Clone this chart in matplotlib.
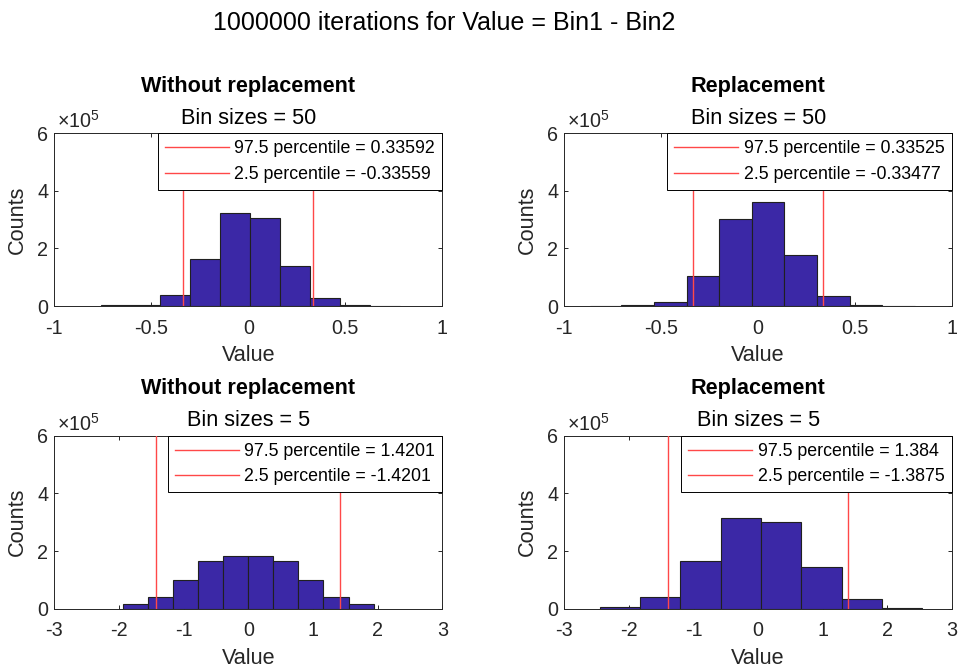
import matplotlib

matplotlib.use("Agg")
import matplotlib.pyplot as plt
import numpy as np
from matplotlib.ticker import FuncFormatter

plt.rcParams["font.family"] = ["Liberation Sans", "DejaVu Sans"]
plt.rcParams["axes.unicode_minus"] = False
plt.rcParams["mathtext.default"] = "regular"

# Histogram bin edges and counts, one set per panel.
edges_wo_50 = [-0.76, -0.61, -0.454, -0.299, -0.144, 0.010, 0.165, 0.318, 0.4725, 0.627, 0.782]
counts_wo_50 = [2000, 5000, 37000, 162000, 322000, 306000, 138000, 29000, 2500, 500]

edges_rep_50 = [-0.87, -0.705, -0.537, -0.369, -0.200, -0.032, 0.135, 0.3035, 0.472, 0.641, 0.809]
counts_rep_50 = [1000, 2500, 15000, 105000, 303000, 361000, 177000, 35000, 2500, 800]

edges_wo_5 = [-1.943, -1.557, -1.170, -0.773, -0.392, 0.0, 0.387, 0.773, 1.160, 1.550, 1.943]
counts_wo_5 = [17000, 40000, 100000, 164000, 184000, 183000, 164000, 100000, 40000, 17000]

edges_rep_5 = [-2.448, -1.824, -1.205, -0.580, 0.044, 0.668, 1.293, 1.912, 2.536]
counts_rep_5 = [4500, 40000, 164000, 314000, 302000, 143000, 32000, 3500]

# 97.5 and 2.5 percentiles shown in the legends.
upper_pct = [0.33592, 0.33525, 1.4201, 1.384]
lower_pct = [-0.33559, -0.33477, -1.4201, -1.3875]

titles = ["Without replacement", "Replacement", "Without replacement", "Replacement"]
bin_sizes = [50, 50, 5, 5]
x_limits = [(-1, 1), (-1, 1), (-3, 3), (-3, 3)]
x_ticks = [[-1, -0.5, 0, 0.5, 1], [-1, -0.5, 0, 0.5, 1],
           [-3, -2, -1, 0, 1, 2, 3], [-3, -2, -1, 0, 1, 2, 3]]

panel_edges = [edges_wo_50, edges_rep_50, edges_wo_5, edges_rep_5]
panel_counts = [counts_wo_50, counts_rep_50, counts_wo_5, counts_rep_5]

AX_COLOR = "#262626"
BAR_COLOR = "#3B28A6"
LINE_COLOR = "#FF4848"

W, H = 959, 667
fig = plt.figure(figsize=(W / 100, H / 100), dpi=100)

# axes boxes in pixels: left, top, right, bottom
boxes = [(54.3, 133.3, 442.3, 306.0), (564.3, 133.3, 952.0, 306.0),
         (54.3, 435.7, 442.3, 608.7), (564.3, 435.7, 952.0, 608.7)]

for i, (l, t, r, b) in enumerate(boxes):
    ax = fig.add_axes([l / W, 1 - b / H, (r - l) / W, (b - t) / H])
    edges = np.array(panel_edges[i])
    ax.bar(edges[:-1], panel_counts[i], width=np.diff(edges), align="edge",
           color=BAR_COLOR, edgecolor="#202020", linewidth=0.8, zorder=2)

    ax.axvline(upper_pct[i], ymin=0, ymax=1, color=LINE_COLOR, lw=1.0, zorder=3,
               label=f"97.5 percentile = {upper_pct[i]:g}")
    ax.axvline(lower_pct[i], ymin=0, ymax=1, color=LINE_COLOR, lw=1.0, zorder=3,
               label=f"2.5 percentile = {lower_pct[i]:g}")

    ax.set_xlim(*x_limits[i])
    ax.set_ylim(0, 6e5)
    ax.set_xticks(x_ticks[i])
    ax.set_xticklabels([f"{v:g}" for v in x_ticks[i]])
    ax.set_yticks([0, 2e5, 4e5, 6e5])
    ax.yaxis.set_major_formatter(FuncFormatter(lambda v, p: f"{v / 1e5:g}"))

    ax.tick_params(direction="in", length=2.9, width=0.7, colors=AX_COLOR,
                   labelsize=14.2, top=True, right=True)
    ax.tick_params(axis="x", pad=9.1)
    ax.tick_params(axis="y", pad=4.3)
    for sp in ax.spines.values():
        sp.set_color(AX_COLOR)
        sp.set_linewidth(0.7)

    ax.set_xlabel("Value", fontsize=15.6, color=AX_COLOR, labelpad=5.5)
    ax.set_ylabel("Counts", fontsize=15.6, color=AX_COLOR, labelpad=6.5)

    ax.set_title(f"Bin sizes = {bin_sizes[i]}", fontsize=15.6, pad=6.7, color="black")
    ax.text(0.5, 1.241, titles[i], transform=ax.transAxes, ha="center", va="baseline",
            fontsize=15.6, fontweight="bold", color="black")
    ax.text(0.006, 1.029, r"$\times10^{5}$", transform=ax.transAxes, ha="left",
            va="baseline", fontsize=14.2, color=AX_COLOR)

    leg = ax.legend(loc="upper right", borderaxespad=0, fontsize=12.8, fancybox=False,
                    framealpha=1, edgecolor="black", handlelength=3.6,
                    handletextpad=0.32, labelspacing=0.47, borderpad=0.4)
    leg.get_frame().set_linewidth(0.7)
    for txt in leg.get_texts():
        txt.set_color("black")

fig.text(444 / W, 1 - 30 / H, "1000000 iterations for Value = Bin1 - Bin2",
         ha="center", va="baseline", fontsize=18)

fig.savefig("out.png", dpi=100)
